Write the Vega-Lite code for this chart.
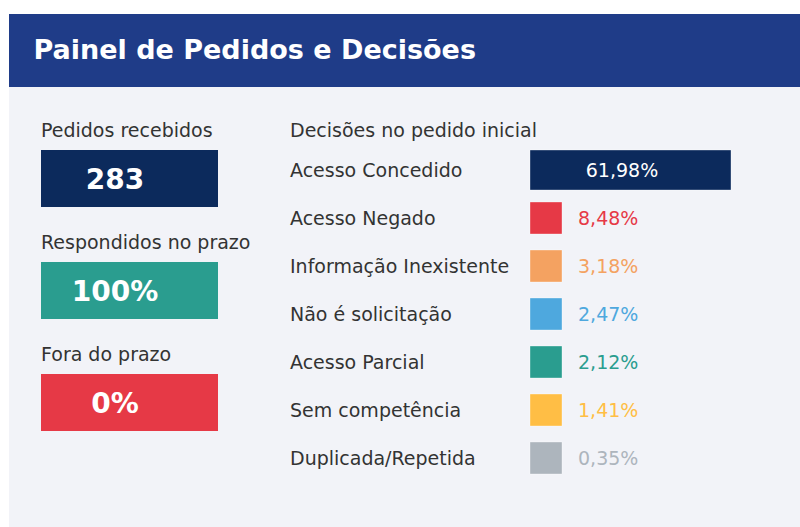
{
  "$schema": "https://vega.github.io/schema/vega-lite/v6.json",
  "background": "white",
  "padding": {"left": 9, "top": 14, "right": 0, "bottom": 0},
  "spacing": 0,
  "config": {
    "font": "DejaVu Sans",
    "locale": {"number": {"decimal": ",", "thousands": ".", "grouping": [3], "currency": ["R$", ""]}},
    "view": {"stroke": null}
  },
  "vconcat": [
    {
      "width": 791,
      "height": 73,
      "view": {"fill": "#1f3c88", "stroke": null},
      "data": {"values": [{"titulo": "Painel de Pedidos e Decisões"}]},
      "mark": {"type": "text", "align": "left", "baseline": "alphabetic", "fontSize": 27, "fontWeight": "bold", "color": "white", "font": "DejaVu Sans"},
      "encoding": {"text": {"field": "titulo", "type": "nominal"}, "x": {"value": 24.5}, "y": {"value": 45}}
    },
    {
      "width": 791,
      "height": 440,
      "view": {"fill": "#f2f3f8", "stroke": null},
      "layer": [
        {
          "data": {"values": [
            {"indicador": "Pedidos recebidos", "valor": "283"},
            {"indicador": "Respondidos no prazo", "valor": "100%"},
            {"indicador": "Fora do prazo", "valor": "0%"}
          ]},
          "encoding": {
            "y": {"field": "indicador", "type": "nominal", "sort": null, "scale": {"type": "band", "range": [35.5, 371.5], "paddingInner": 0, "paddingOuter": 0}, "axis": null}
          },
          "layer": [
            {
              "mark": {"type": "bar", "height": 57},
              "encoding": {
                "x": {"value": 32},
                "x2": {"value": 209},
                "color": {"field": "indicador", "type": "nominal", "scale": {"domain": ["Pedidos recebidos", "Respondidos no prazo", "Fora do prazo"], "range": ["#0c2a5c", "#2a9d8f", "#e63946"]}, "legend": null}
              }
            },
            {
              "mark": {"type": "text", "align": "left", "baseline": "alphabetic", "dy": -41.5, "fontSize": 19, "color": "#333333"},
              "encoding": {"x": {"value": 32}, "text": {"field": "indicador", "type": "nominal"}}
            },
            {
              "mark": {"type": "text", "align": "center", "baseline": "alphabetic", "dy": 10.5, "fontSize": 28, "fontWeight": "bold", "color": "white"},
              "encoding": {"x": {"value": 106}, "text": {"field": "valor", "type": "nominal"}}
            }
          ]
        },
        {
          "data": {"values": [{"titulo": "Decisões no pedido inicial"}]},
          "mark": {"type": "text", "align": "left", "baseline": "alphabetic", "fontSize": 19, "color": "#333333"},
          "encoding": {"x": {"value": 281}, "y": {"value": 50}, "text": {"field": "titulo", "type": "nominal"}}
        },
        {
          "data": {"values": [
            {"decisao": "Acesso Concedido", "percentual": 0.6198},
            {"decisao": "Acesso Negado", "percentual": 0.0848},
            {"decisao": "Informação Inexistente", "percentual": 0.0318},
            {"decisao": "Não é solicitação", "percentual": 0.0247},
            {"decisao": "Acesso Parcial", "percentual": 0.0212},
            {"decisao": "Sem competência", "percentual": 0.0141},
            {"decisao": "Duplicada/Repetida", "percentual": 0.0035}
          ]},
          "encoding": {
            "y": {"field": "decisao", "type": "nominal", "sort": null, "scale": {"type": "band", "range": [59, 395], "paddingInner": 0, "paddingOuter": 0}, "axis": null}
          },
          "layer": [
            {
              "mark": {"type": "text", "align": "left", "baseline": "alphabetic", "dy": 6.5, "fontSize": 19, "color": "#333333"},
              "encoding": {"x": {"value": 281}, "text": {"field": "decisao", "type": "nominal"}}
            },
            {
              "mark": {"type": "bar", "stroke": "white", "strokeOpacity": 0.35, "strokeWidth": 1},
              "encoding": {
                "x": {"field": "percentual", "type": "quantitative", "scale": {"domain": [0, 0.0001, 0.0987, 0.6198], "range": [521, 553, 553, 722], "zero": true, "nice": false}, "axis": null},
                "size": {"field": "percentual", "type": "quantitative", "scale": {"type": "threshold", "domain": [0.0987], "range": [32, 40]}, "legend": null},
                "color": {"field": "decisao", "type": "nominal", "scale": {"domain": ["Acesso Concedido", "Acesso Negado", "Informação Inexistente", "Não é solicitação", "Acesso Parcial", "Sem competência", "Duplicada/Repetida"], "range": ["#0c2a5c", "#e63946", "#f4a261", "#4ea8de", "#2a9d8f", "#ffbe45", "#adb5bd"]}, "legend": null}
              }
            },
            {
              "transform": [{"filter": "datum.percentual >= 0.0987"}],
              "mark": {"type": "text", "align": "center", "baseline": "alphabetic", "dy": 6.5, "dx": -109, "fontSize": 19, "color": "white"},
              "encoding": {
                "x": {"field": "percentual", "type": "quantitative", "scale": {"domain": [0, 0.0001, 0.0987, 0.6198], "range": [521, 553, 553, 722], "zero": true, "nice": false}, "axis": null},
                "text": {"field": "percentual", "type": "quantitative", "format": ".2%"}
              }
            },
            {
              "transform": [{"filter": "datum.percentual < 0.0987"}],
              "mark": {"type": "text", "align": "left", "baseline": "alphabetic", "dy": 6.5, "fontSize": 19},
              "encoding": {
                "x": {"value": 569},
                "text": {"field": "percentual", "type": "quantitative", "format": ".2%"},
                "color": {"field": "decisao", "type": "nominal", "scale": {"domain": ["Acesso Concedido", "Acesso Negado", "Informação Inexistente", "Não é solicitação", "Acesso Parcial", "Sem competência", "Duplicada/Repetida"], "range": ["#0c2a5c", "#e63946", "#f4a261", "#4ea8de", "#2a9d8f", "#ffbe45", "#adb5bd"]}, "legend": null}
              }
            }
          ]
        }
      ],
      "resolve": {"scale": {"y": "independent", "color": "independent", "x": "independent"}}
    }
  ]
}
